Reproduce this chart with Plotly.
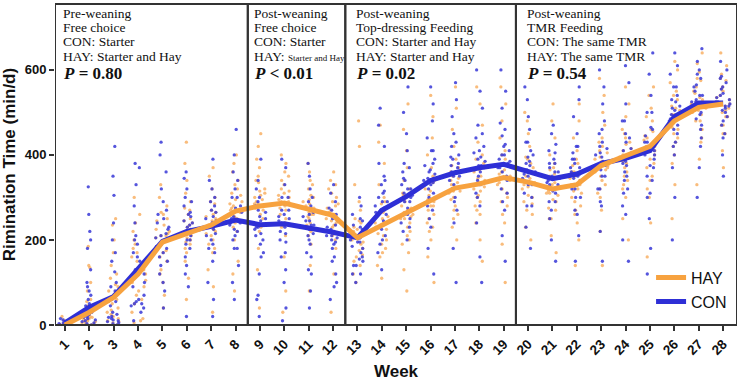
import plotly.graph_objects as go

weeks = list(range(1, 29))
week_labels = [str(w) for w in weeks]

hay_mean = [0, 30, 65, 120, 195, 215, 235, 268, 280, 287, 272, 258, 205, 235, 262, 292, 322, 332, 347,
            336, 320, 330, 375, 398, 420, 480, 512, 520]
con_mean = [5, 42, 67, 130, 197, 220, 232, 247, 236, 238, 228, 218, 205, 270, 302, 340, 358, 370, 378,
            360, 344, 355, 380, 392, 410, 490, 522, 522]

hay_points = [
    [0, 2, 5, 0, 8, 12, 3, 20, 1, 6],
    [0, 3, 5, 8, 10, 12, 15, 18, 20, 25, 30, 35, 40, 55, 80, 135, 140, 185, 2, 6, 12, 22, 28, 45, 60, 100],
    [0, 5, 10, 15, 20, 30, 40, 50, 60, 70, 80, 95, 110, 140, 170, 200, 235, 250, 8, 25, 35, 55, 65, 75, 90, 120],
    [5, 15, 30, 50, 70, 90, 100, 115, 125, 140, 160, 180, 200, 220, 240, 260, 300, 10, 60, 80, 105, 120, 130, 150, 170, 190],
    [40, 70, 100, 130, 150, 170, 185, 200, 210, 220, 235, 250, 265, 280, 300, 330, 210, 160, 120, 175, 190, 205, 215, 225, 245, 260],
    [60, 110, 150, 180, 200, 210, 220, 230, 240, 250, 260, 275, 290, 310, 340, 380, 430, 195, 170, 190, 205, 215, 225, 235, 245, 270],
    [30, 90, 130, 170, 190, 210, 225, 240, 250, 260, 270, 285, 300, 320, 350, 370, 230, 215, 180, 200, 220, 235, 245, 255, 265, 290],
    [80, 120, 150, 200, 230, 250, 265, 275, 285, 295, 310, 320, 340, 360, 380, 400, 270, 255, 220, 240, 260, 270, 280, 290, 305, 330],
    [40, 130, 180, 220, 250, 270, 280, 290, 300, 310, 320, 335, 350, 370, 390, 420, 450, 285, 230, 260, 275, 285, 295, 305, 315, 340],
    [30, 80, 160, 210, 240, 260, 275, 285, 295, 305, 315, 330, 340, 360, 380, 400, 290, 270, 230, 250, 280, 290, 300, 310, 320, 350],
    [80, 140, 190, 220, 240, 255, 265, 275, 285, 295, 305, 320, 340, 360, 380, 275, 260, 250, 210, 235, 260, 270, 280, 290, 300, 330],
    [30, 120, 180, 210, 230, 245, 255, 265, 275, 285, 300, 310, 320, 340, 360, 250, 240, 270, 200, 220, 235, 250, 260, 280, 290, 330],
    [100, 120, 140, 160, 175, 190, 200, 210, 220, 230, 240, 250, 270, 290, 330, 420, 480, 205, 150, 165, 180, 195, 205, 215, 225, 245],
    [110, 140, 160, 180, 200, 215, 230, 240, 250, 260, 270, 285, 300, 330, 380, 430, 470, 235, 170, 190, 210, 225, 240, 255, 265, 290],
    [80, 130, 170, 200, 220, 240, 255, 265, 275, 290, 305, 320, 340, 370, 410, 460, 520, 250, 190, 210, 230, 250, 260, 270, 280, 310],
    [100, 160, 200, 230, 250, 270, 285, 295, 305, 320, 335, 350, 370, 400, 440, 490, 540, 280, 220, 240, 260, 280, 290, 300, 315, 340],
    [200, 230, 260, 280, 300, 310, 320, 330, 340, 350, 360, 375, 390, 420, 460, 510, 560, 315, 250, 270, 295, 315, 325, 335, 345, 370],
    [150, 200, 240, 270, 290, 305, 320, 330, 340, 350, 365, 380, 400, 430, 470, 520, 560, 325, 260, 280, 300, 315, 335, 345, 360, 390],
    [100, 190, 240, 280, 300, 320, 335, 345, 355, 365, 375, 390, 410, 440, 480, 520, 560, 340, 260, 290, 310, 330, 350, 360, 380, 400],
    [200, 230, 260, 290, 305, 320, 330, 340, 350, 360, 370, 380, 395, 420, 450, 480, 500, 335, 270, 285, 300, 325, 335, 345, 360, 390],
    [170, 210, 250, 275, 295, 305, 315, 325, 335, 345, 355, 365, 380, 400, 440, 480, 520, 310, 250, 270, 290, 310, 320, 330, 350, 370],
    [140, 200, 240, 270, 290, 310, 320, 330, 340, 350, 360, 375, 390, 410, 440, 480, 520, 325, 260, 280, 300, 315, 330, 345, 360, 380],
    [140, 220, 270, 310, 330, 350, 365, 375, 385, 395, 405, 420, 440, 470, 500, 540, 580, 370, 300, 320, 340, 360, 375, 390, 410, 430],
    [200, 250, 300, 330, 350, 370, 385, 395, 405, 415, 425, 440, 460, 490, 520, 560, 400, 390, 320, 340, 360, 380, 395, 410, 430, 450],
    [160, 240, 300, 340, 370, 390, 405, 415, 425, 435, 445, 460, 480, 510, 540, 560, 420, 410, 320, 350, 380, 400, 420, 440, 455, 490],
    [250, 330, 380, 420, 440, 460, 475, 485, 495, 505, 515, 530, 550, 570, 600, 620, 480, 470, 400, 430, 450, 465, 480, 495, 510, 540],
    [330, 390, 430, 460, 480, 495, 505, 515, 525, 535, 545, 560, 575, 595, 615, 640, 510, 520, 440, 460, 480, 500, 515, 530, 550, 580],
    [370, 410, 450, 470, 490, 500, 510, 520, 530, 540, 550, 560, 575, 590, 610, 640, 520, 515, 450, 470, 490, 505, 520, 535, 555, 580],
]

con_points = [
    [0, 3, 8, 12, 5, 15, 0, 2, 10, 7],
    [0, 5, 10, 15, 20, 25, 30, 40, 50, 60, 80, 100, 130, 180, 200, 220, 260, 325, 3, 8, 12, 18, 35, 45, 70, 90],
    [0, 5, 10, 15, 20, 30, 45, 60, 80, 100, 125, 150, 170, 200, 240, 305, 350, 420, 3, 8, 12, 18, 25, 55, 70, 90],
    [10, 30, 45, 55, 70, 90, 110, 130, 150, 170, 190, 210, 240, 280, 330, 370, 380, 50, 40, 50, 60, 100, 120, 140, 160, 200],
    [40, 80, 120, 150, 170, 185, 195, 205, 215, 230, 250, 270, 290, 320, 360, 400, 430, 100, 140, 160, 180, 200, 210, 225, 240, 260],
    [20, 90, 140, 180, 200, 215, 225, 235, 245, 255, 265, 280, 300, 320, 345, 360, 120, 210, 160, 190, 200, 220, 230, 240, 260, 290],
    [20, 100, 150, 180, 200, 215, 225, 235, 245, 255, 265, 280, 300, 320, 340, 390, 60, 230, 170, 190, 210, 230, 240, 250, 270, 290],
    [60, 100, 140, 180, 210, 225, 235, 245, 255, 265, 280, 300, 320, 340, 360, 400, 460, 240, 180, 200, 220, 240, 250, 260, 275, 300],
    [20, 70, 120, 170, 200, 215, 225, 235, 245, 255, 265, 280, 300, 320, 340, 390, 60, 230, 160, 190, 210, 230, 240, 250, 270, 290],
    [10, 40, 100, 160, 195, 215, 230, 240, 250, 260, 270, 285, 300, 330, 370, 390, 130, 235, 170, 200, 220, 235, 245, 255, 270, 300],
    [40, 80, 130, 170, 200, 215, 225, 235, 245, 255, 265, 280, 300, 320, 350, 380, 120, 225, 160, 190, 210, 225, 235, 245, 260, 290],
    [60, 90, 120, 160, 190, 205, 215, 225, 235, 245, 260, 275, 290, 310, 330, 100, 210, 200, 150, 180, 195, 210, 220, 230, 250, 270],
    [100, 120, 140, 155, 170, 185, 195, 205, 215, 225, 235, 245, 260, 280, 300, 150, 200, 210, 120, 140, 160, 180, 195, 210, 230, 250],
    [130, 170, 200, 225, 245, 260, 270, 280, 290, 300, 315, 330, 350, 380, 420, 470, 510, 265, 190, 210, 240, 260, 275, 290, 310, 340],
    [200, 220, 240, 260, 275, 290, 300, 310, 320, 330, 345, 360, 380, 410, 450, 500, 560, 295, 230, 250, 270, 290, 305, 320, 340, 370],
    [120, 180, 230, 270, 300, 320, 335, 345, 355, 365, 375, 390, 410, 440, 480, 520, 560, 340, 250, 280, 310, 330, 345, 360, 380, 410],
    [100, 180, 240, 290, 320, 340, 350, 360, 370, 380, 390, 400, 420, 450, 490, 530, 570, 355, 270, 300, 330, 350, 360, 375, 395, 430],
    [100, 160, 240, 300, 330, 350, 365, 375, 385, 395, 405, 420, 440, 470, 510, 550, 600, 370, 280, 310, 340, 360, 375, 390, 410, 450],
    [150, 210, 270, 310, 340, 360, 370, 380, 390, 400, 410, 425, 445, 475, 510, 550, 600, 375, 290, 320, 350, 370, 385, 400, 420, 460],
    [180, 230, 280, 310, 330, 345, 355, 365, 375, 385, 395, 410, 430, 460, 490, 530, 560, 360, 280, 300, 330, 350, 365, 380, 400, 430],
    [150, 200, 250, 290, 315, 330, 340, 350, 360, 370, 380, 390, 405, 425, 450, 470, 345, 335, 270, 290, 310, 330, 345, 360, 380, 410],
    [150, 210, 260, 300, 320, 340, 350, 360, 370, 380, 390, 405, 420, 450, 490, 530, 560, 355, 270, 300, 320, 345, 355, 370, 390, 420],
    [150, 220, 280, 320, 350, 365, 375, 385, 395, 405, 415, 430, 450, 480, 520, 560, 600, 380, 290, 320, 350, 370, 385, 400, 420, 460],
    [150, 200, 260, 310, 340, 360, 375, 385, 395, 405, 415, 430, 450, 480, 520, 570, 610, 390, 280, 320, 350, 380, 395, 410, 440, 480],
    [120, 180, 250, 310, 350, 375, 390, 400, 410, 420, 430, 445, 465, 500, 540, 590, 640, 410, 300, 340, 370, 400, 415, 430, 460, 500],
    [200, 300, 370, 420, 450, 470, 485, 495, 505, 515, 525, 540, 560, 590, 610, 640, 490, 480, 400, 430, 460, 480, 495, 510, 530, 560],
    [300, 370, 420, 460, 485, 500, 510, 520, 530, 540, 550, 565, 580, 600, 620, 650, 520, 525, 440, 470, 495, 515, 525, 540, 560, 590],
    [350, 400, 440, 470, 490, 505, 515, 525, 535, 545, 555, 570, 585, 600, 620, 510, 520, 530, 450, 480, 500, 515, 525, 540, 560, 580],
]

period_bounds = [8.5, 12.5, 19.5]
period_texts = [
    ["Pre-weaning", "Free choice", "CON: Starter", "HAY: Starter and Hay", "<b><i>P</i> = 0.80</b>"],
    ["Post-weaning", "Free choice", "CON: Starter",
     "HAY: <span style='font-size:9px'>Starter and Hay</span>", "<b><i>P</i> &lt; 0.01</b>"],
    ["Post-weaning", "Top-dressing Feeding", "CON: Starter and Hay", "HAY: Starter and Hay",
     "<b><i>P</i> = 0.02</b>"],
    ["Post-weaning", "TMR Feeding", "CON: The same TMR", "HAY: The same TMR", "<b><i>P</i> = 0.54</b>"],
]

ORANGE = "#F7A23F"
BLUE = "#2E2FD6"
XMIN, XMAX = 0.59, 28.57
YMAX = 755

fig = go.Figure()

def flatten(points):
    xs, ys = [], []
    for w, vals in zip(weeks, points):
        xs += [w] * len(vals)
        ys += vals
    return xs, ys

hx, hy = flatten(hay_points)
cx, cy = flatten(con_points)

for xs, ys, col, name in [(hx, hy, "rgba(247,165,80,0.75)", "HAY"),
                          (cx, cy, "rgba(55,55,215,0.85)", "CON")]:
    fig.add_trace(go.Box(
        x=xs, y=ys, name=name + " pts", boxpoints="all", jitter=1, pointpos=0,
        width=0.62, fillcolor="rgba(0,0,0,0)", line=dict(color="rgba(0,0,0,0)", width=0),
        marker=dict(color=col, size=3.3), showlegend=False, hoverinfo="y",
    ))

fig.add_trace(go.Scatter(x=weeks, y=con_mean, mode="lines", name="CON",
                         line=dict(color=BLUE, width=5), legendrank=2))
fig.add_trace(go.Scatter(x=weeks, y=hay_mean, mode="lines", name="HAY",
                         line=dict(color=ORANGE, width=5), legendrank=1))

# period frames
edges = [XMIN] + period_bounds + [XMAX]
for i in range(4):
    fig.add_shape(type="rect", xref="x", yref="paper", x0=edges[i], x1=edges[i + 1], y0=0, y1=1,
                  line=dict(color="#333333", width=2), fillcolor="rgba(0,0,0,0)", layer="above")

# period text
plot_h = 321
line_px = [13, 27, 41, 56, 73]
shifts = [6, 4, 9, 9]
for i, texts in enumerate(period_texts):
    for j, t in enumerate(texts):
        fig.add_annotation(
            x=edges[i], xref="x", xanchor="left", xshift=shifts[i],
            y=(325 - line_px[j]) / plot_h, yref="paper", yanchor="middle",
            text=t, showarrow=False,
            font=dict(family="Liberation Serif", size=17 if j == 4 else 13.5, color="#111111"),
        )

fig.update_layout(
    width=740, height=382,
    margin=dict(l=55, r=3, t=4, b=57),
    paper_bgcolor="white", plot_bgcolor="white",
    boxmode="overlay",
    font=dict(family="Arial", color="#111111"),
    showlegend=True,
    legend=dict(x=0.874, y=0.11, xanchor="left", yanchor="middle", bgcolor="rgba(0,0,0,0)",
                font=dict(family="Arial", size=16, color="#111111"), tracegroupgap=0),
    xaxis=dict(range=[XMIN, XMAX], tickmode="array", tickvals=weeks, ticktext=week_labels,
               tickangle=-45, ticks="outside", ticklen=5, tickwidth=1.5, tickcolor="#333333",
               tickfont=dict(family="Arial", size=13.5, color="#111111", weight="bold"),
               showgrid=False, zeroline=False, showline=False,
               title=dict(text="<b>Week</b>", font=dict(family="Arial", size=17), standoff=8)),
    yaxis=dict(range=[0, YMAX], tickvals=[0, 200, 400, 600], ticks="outside", ticklen=5,
               tickwidth=1.5, tickcolor="#333333",
               tickfont=dict(family="Arial", size=13, color="#111111", weight="bold"),
               showgrid=False, zeroline=False, showline=False,
               title=dict(text="<b>Rimination Time (min/d)</b>", font=dict(family="Arial", size=17),
                          standoff=6)),
)

fig.write_html("out.html", config={"displayModeBar": False},
               post_script="document.body.style.margin='0';document.body.style.overflow='hidden';")
